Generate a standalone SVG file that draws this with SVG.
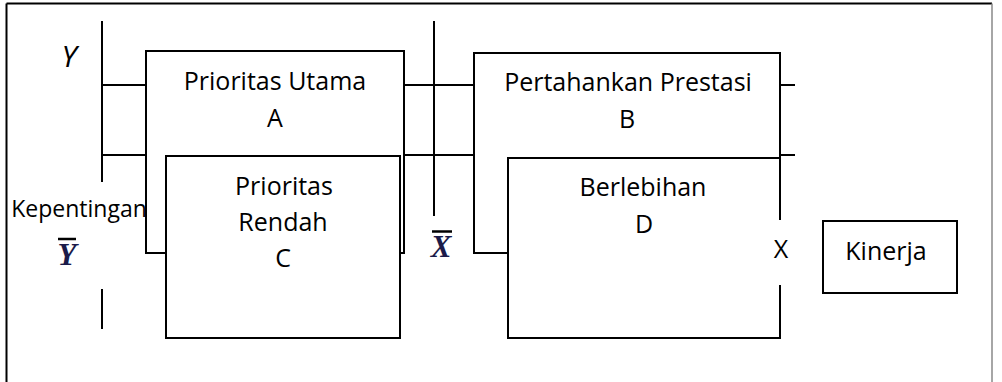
<svg xmlns="http://www.w3.org/2000/svg" width="1002" height="382" viewBox="0 0 1002 382">
  <style>
    .box { fill: #fff; stroke: #000; stroke-width: 2; }
    .ln { stroke: #000; stroke-width: 2; fill: none; }
    .lbl { font-family: "Open Sans", "Noto Sans", sans-serif; font-size: 25px; fill: #000; text-anchor: middle; }
    .small { font-size: 23px; }
    .axis { font-family: "Liberation Serif", serif; font-style: italic; font-weight: bold; font-size: 31px; fill: #1b1b4a; text-anchor: middle; }
  </style>

  <!-- frame -->
  <g id="frame">
    <rect x="0" y="0" width="1002" height="382" fill="#fff"/>
    <line class="ln" x1="6.5" y1="3.5" x2="992" y2="3.5"/>
    <line class="ln" x1="6.5" y1="3.5" x2="6.5" y2="382"/>
    <line x1="992" y1="3.5" x2="992" y2="382" stroke="#888" stroke-width="1.5"/>
  </g>

  <!-- axes and connectors -->
  <g id="connectors">
    <line class="ln" x1="102" y1="21" x2="102" y2="182"/>
    <line class="ln" x1="102" y1="289" x2="102" y2="329"/>
    <line class="ln" x1="102" y1="85" x2="146" y2="85"/>
    <line class="ln" x1="102" y1="155" x2="146" y2="155"/>
    <line class="ln" x1="434" y1="21" x2="434" y2="216"/>
    <line class="ln" x1="404" y1="85" x2="474" y2="85"/>
    <line class="ln" x1="404" y1="155" x2="474" y2="155"/>
    <line class="ln" x1="780" y1="85" x2="795" y2="85"/>
    <line class="ln" x1="780" y1="155" x2="795" y2="155"/>
  </g>

  <g id="node-a">
    <rect class="box" x="146" y="51" width="258" height="202"/>
    <text class="lbl" x="275" y="90">Prioritas Utama</text>
    <text class="lbl" x="275" y="127">A</text>
  </g>

  <g id="node-c">
    <rect class="box" x="166" y="156" width="234" height="182"/>
    <text class="lbl" x="284" y="195">Prioritas</text>
    <text class="lbl" x="283" y="231">Rendah</text>
    <text class="lbl" x="283" y="267">C</text>
  </g>

  <g id="node-b">
    <rect class="box" x="474" y="53" width="306" height="200"/>
    <text class="lbl" x="628" y="91">Pertahankan Prestasi</text>
    <text class="lbl" x="627" y="128">B</text>
  </g>

  <g id="node-d">
    <rect class="box" x="508" y="158" width="272" height="180"/>
    <text class="lbl" x="643" y="196">Berlebihan</text>
    <text class="lbl" x="644" y="233">D</text>
  </g>

  <!-- X axis label breaks the right edge -->
  <g id="label-x">
    <rect x="774" y="220" width="14" height="65" fill="#fff"/>
    <text class="lbl" x="781" y="258">X</text>
  </g>

  <g id="node-kinerja">
    <rect class="box" x="823" y="221" width="134" height="72"/>
    <text class="lbl" x="886" y="260">Kinerja</text>
  </g>

  <g id="label-y">
    <text x="69" y="67" font-family="Open Sans, sans-serif" font-style="italic" font-size="30" text-anchor="middle">Y</text>
  </g>

  <g id="label-kepentingan">
    <text class="lbl small" x="79" y="217">Kepentingan</text>
  </g>

  <g id="label-ybar">
    <line x1="58" y1="239" x2="76" y2="239" stroke="#000" stroke-width="2.5"/>
    <text class="axis" x="67" y="265">Y</text>
  </g>

  <g id="label-xbar">
    <line x1="432" y1="231.5" x2="452" y2="231.5" stroke="#000" stroke-width="2.5"/>
    <text class="axis" x="441" y="257">X</text>
  </g>
</svg>
